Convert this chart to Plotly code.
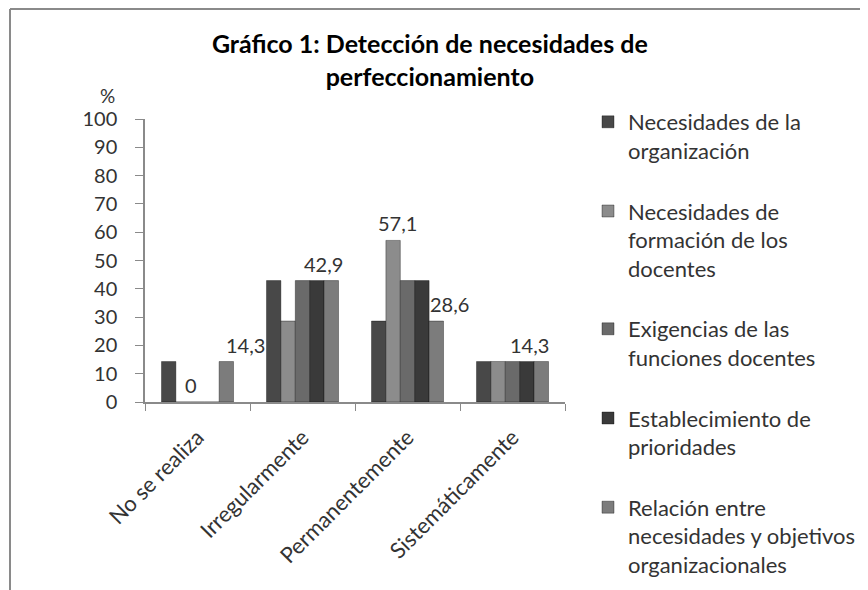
import plotly.graph_objects as go

categories = ["No se realiza", "Irregularmente", "Permanentemente", "Sistemáticamente"]
series_names = [
    "Necesidades de la<br>organización",
    "Necesidades de<br>formación de los<br>docentes",
    "Exigencias de las<br>funciones docentes",
    "Establecimiento de<br>prioridades",
    "Relación entre<br>necesidades y objetivos<br>organizacionales",
]
s1 = [14.3, 42.9, 28.6, 14.3]
s2 = [0, 28.6, 57.1, 14.3]
s3 = [0, 42.9, 42.9, 14.3]
s4 = [0, 42.9, 42.9, 14.3]
s5 = [14.3, 42.9, 28.6, 14.3]
series_values = [s1, s2, s3, s4, s5]
colors = ["#484848", "#8c8c8c", "#6a6a6a", "#3a3a3a", "#7c7c7c"]

# data labels shown in the chart: (category index, series index)
label_points = [(0, 2), (0, 4), (1, 4), (2, 1), (2, 4), (3, 3)]
label_dx = [-0.06, 0.46, 0.20, -0.10, 0.40, 0.16]

FONT = "Lato"
OFF = 8  # page offset of the figure inside the browser window
fig = go.Figure()
for i, (name, vals) in enumerate(zip(series_names, series_values)):
    fig.add_trace(go.Bar(
        x=categories, y=vals, name=name,
        marker=dict(color=colors[i], line=dict(color="rgba(0,0,0,0.35)", width=1)),
        legendgroup=f"g{i}",
    ))

annotations = []
for (ci, si), dx in zip(label_points, label_dx):
    v = series_values[si][ci]
    txt = f"{v:.1f}".replace(".", ",") if v != 0 else "0"
    annotations.append(dict(
        x=ci + dx, y=v, xref="x", yref="y", text=txt, showarrow=False,
        yanchor="bottom", yshift=3, font=dict(family=FONT, size=20, color="#333333"),
    ))

# plot area in page pixels
PL, PT, W, H = 145, 119, 420, 283
L, T = PL - OFF, PT - OFF
def px(xp):
    return (xp - PL) / W
def py(yp):
    return (PT + H - yp) / H

annotations.append(dict(
    x=px(107), y=py(109), xref="paper", yref="paper", text="%", showarrow=False,
    xanchor="center", yanchor="bottom", font=dict(family=FONT, size=19, color="#333333"),
))

shapes = [
    dict(type="line", xref="paper", yref="paper", x0=px(10), x1=px(10), y0=py(9), y1=py(600),
         line=dict(color="#8a8a8a", width=2)),
    dict(type="line", xref="paper", yref="paper", x0=px(10), x1=px(880), y0=py(9), y1=py(9),
         line=dict(color="#8a8a8a", width=2)),
]

fig.update_layout(
    width=868, height=590,
    margin=dict(l=L, r=868 - L - W, t=T, b=590 - T - H, autoexpand=False),
    paper_bgcolor="white", plot_bgcolor="white",
    barmode="group", bargap=0.314, bargroupgap=0,
    title=dict(
        text="<b>Gráfico 1: Detección de necesidades de<br>perfeccionamiento</b>",
        x=0.486, xref="container", xanchor="center",
        y=1 - 45 / 590, yref="container", yanchor="top",
        font=dict(family=FONT, size=25, color="#000000"),
    ),
    font=dict(family=FONT, color="#333333"),
    xaxis=dict(
        type="category", showline=True, linecolor="#8a8a8a", linewidth=1.5,
        ticks="outside", tickson="boundaries", ticklen=7, tickcolor="#8a8a8a",
        tickangle=-45, tickfont=dict(family=FONT, size=22, color="#333333"),
        ticklabelstandoff=12, automargin=False,
        showgrid=False, fixedrange=True,
    ),
    yaxis=dict(
        range=[0, 100], dtick=10, showline=True, linecolor="#8a8a8a", linewidth=1.5,
        ticks="outside", ticklen=8, tickcolor="#8a8a8a",
        tickfont=dict(family=FONT, size=20, color="#333333"),
        ticklabelstandoff=14, automargin=False,
        showgrid=False, zeroline=False, fixedrange=True,
    ),
    legend=dict(
        x=580 / 868, xref="container", y=1 - 93 / 590, yref="container",
        xanchor="left", yanchor="top",
        font=dict(family=FONT, size=22, color="#333333"),
        tracegroupgap=29, valign="top", traceorder="grouped",
        bgcolor="rgba(0,0,0,0)", maxheight=1,
    ),
    showlegend=True,
    annotations=annotations,
    shapes=shapes,
)

fig.write_html("out.html")
